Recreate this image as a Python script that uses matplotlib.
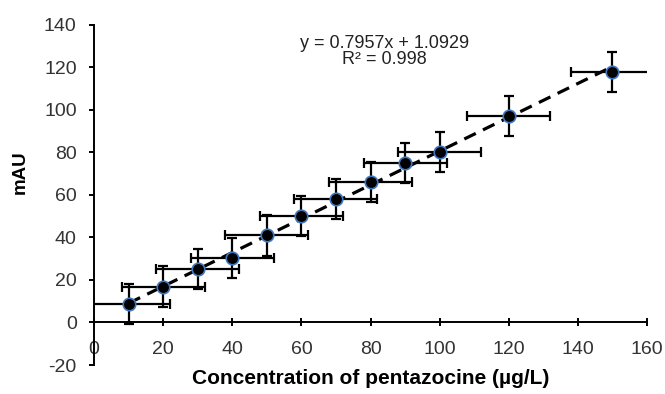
import matplotlib.pyplot as plt
import numpy as np

plt.rcParams['font.family'] = ['Liberation Sans', 'DejaVu Sans']
plt.rcParams['axes.unicode_minus'] = False

conc = [10, 20, 30, 40, 50, 60, 70, 80, 90, 100, 120, 150]
mau = [8.7, 16.9, 25.3, 30.3, 41.0, 50.0, 58.0, 66.0, 75.0, 80.1, 97.2, 118.0]
x_err = [12] * len(conc)
y_err = [9.5] * len(conc)

slope = 0.7957
intercept = 1.0929
eq_text = "y = 0.7957x + 1.0929\nR² = 0.998"

fig = plt.figure(figsize=(6.65, 3.94), dpi=100)
ax = fig.add_axes([0.1414, 0.0736, 0.8316, 0.863])

xs = np.array([min(conc), max(conc)])
ax.plot(xs, slope * xs + intercept, color='black', linestyle=(0, (4, 2.5)),
        linewidth=2.3, zorder=2)

ax.errorbar(conc, mau, xerr=x_err, yerr=y_err, fmt='none', ecolor='black',
            elinewidth=1.6, capsize=3.8, capthick=1.6, zorder=3)
ax.plot(conc, mau, 'o', color='black', markersize=9,
        markeredgecolor='#3f78c0', markeredgewidth=1.2, zorder=4)

ax.text(84, 127.5, eq_text, ha='center', va='center', fontsize=13,
        linespacing=0.95, color='#222222')

ax.set_xlim(0, 160)
ax.set_ylim(-20, 140)
ax.set_xticks(range(0, 161, 20))
ax.set_yticks(range(-20, 141, 20))

ax.spines['top'].set_visible(False)
ax.spines['right'].set_visible(False)
ax.spines['bottom'].set_position(('data', 0))
ax.spines['left'].set_linewidth(1.4)
ax.spines['bottom'].set_linewidth(1.4)

ax.tick_params(axis='x', direction='inout', length=6, width=1.4,
               labelsize=14, pad=10, colors='black', labelcolor='#333333')
ax.tick_params(axis='y', direction='out', length=3.5, width=1.4,
               labelsize=14, pad=9, colors='black', labelcolor='#333333')

ax.set_xlabel('Concentration of pentazocine (µg/L)', fontsize=15,
              fontweight='bold')
ax.xaxis.set_label_coords(0.5, -0.012)
ax.set_ylabel('mAU', fontsize=13.5, fontweight='bold')
ax.yaxis.set_label_coords(-0.118, 0.567)

fig.savefig('out.png', dpi=100)
